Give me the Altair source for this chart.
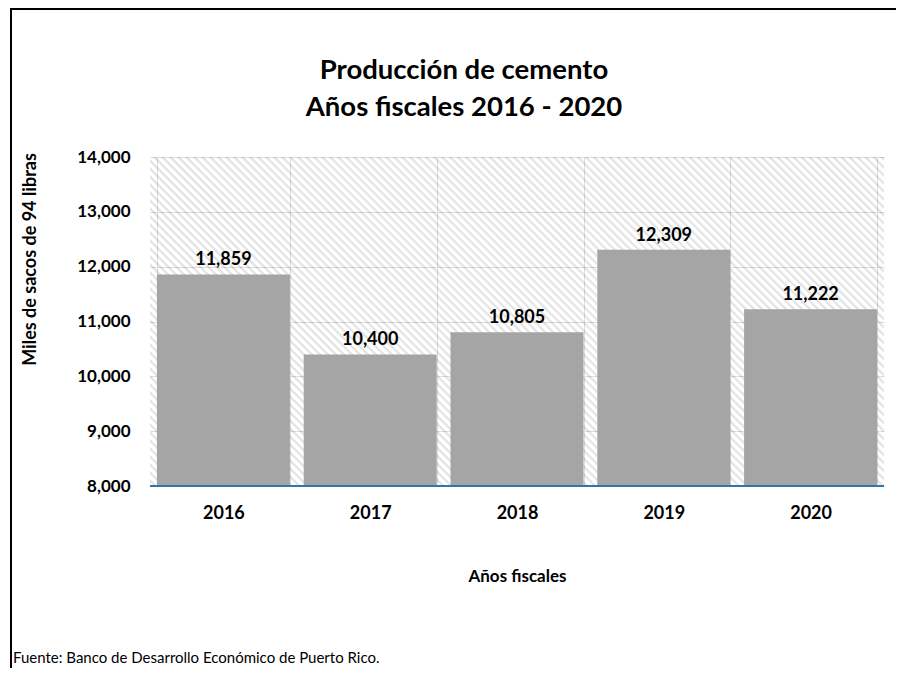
import altair as alt
import pandas as pd

# ---- data ----
YEARS = ["2016", "2017", "2018", "2019", "2020"]
VALUES = [11859, 10400, 10805, 12309, 11222]
Y_TICKS = [8000, 9000, 10000, 11000, 12000, 13000, 14000]
TITLE_LINES = ["Producción de cemento", "Años fiscales 2016 - 2020"]
Y_TITLE = "Miles de sacos de 94 libras"
X_TITLE = "Años fiscales"
SOURCE = "Fuente: Banco de Desarrollo Económico de Puerto Rico."

# ---- layout / style ----
W, H = 734, 329
PAD = {"left": 142, "top": 149, "right": 12, "bottom": 182}
FONT = "Lato"
GRID = "#d9d9d9"
BAR = "#a5a5a5"
BLUE = "#2f75b5"
LBL = 18

df = pd.DataFrame({"year": YEARS, "value": VALUES})

# diagonal hatch pattern as a striped linear gradient (45 degree lines)
r = H / W
a = (1 + r) / (1 + r * r)
period = 8
n = round((W + H) / period)
stops = []
for i in range(n):
    stops += [
        {"offset": i / n, "color": "#ffffff"},
        {"offset": (i + 0.40) / n, "color": "#ffffff"},
        {"offset": (i + 0.62) / n, "color": "#000000"},
        {"offset": (i + 0.78) / n, "color": "#000000"},
    ]
stops.append({"offset": 1.0, "color": "#ffffff"})
hatch_fill = {"gradient": "linear", "x1": 0, "y1": 1, "x2": a, "y2": 1 - a * r, "stops": stops}

x_enc = alt.X(
    "year:N",
    sort=YEARS,
    scale=alt.Scale(paddingInner=0.094, paddingOuter=0.047),
    axis=alt.Axis(
        labelAngle=0, labelFont=FONT, labelFontSize=LBL, labelFontWeight="bold",
        labelColor="black", labelPadding=18, ticks=False, tickSize=0, domain=False,
        grid=True, gridColor=GRID, tickBand="extent",
        title=X_TITLE, titleFont=FONT, titleFontSize=17, titleFontWeight="bold",
        titleColor="black", titleY=95, titleBaseline="alphabetic",
    ),
)
y_enc = alt.Y(
    "value:Q",
    scale=alt.Scale(domain=[8000, 14000], nice=False, zero=False),
    axis=alt.Axis(
        values=Y_TICKS, format=",.0f", labelFont=FONT, labelFontSize=17,
        labelFontWeight="bold", labelColor="black", labelPadding=20,
        ticks=False, tickSize=0, domain=False, grid=True, gridColor=GRID,
        title=Y_TITLE, titleFont=FONT, titleFontSize=18, titleFontWeight="bold",
        titleColor="black", titleX=-115, titleY=102, titleAngle=270,
        titleAlign="center", titleBaseline="alphabetic",
    ),
)

one = pd.DataFrame({"k": [0]})

hatch = alt.Chart(one).mark_rect(fill=hatch_fill, fillOpacity=0.11).encode(
    x=alt.value(0), x2=alt.value("width"), y=alt.value(0), y2=alt.value("height")
)

base = alt.Chart(df)
bars = base.mark_bar(color=BAR).encode(x=x_enc, y=y_enc, y2=alt.datum(8000))
labels = base.mark_text(
    dy=-9, baseline="alphabetic", font=FONT, fontSize=LBL, fontWeight="bold", color="black"
).encode(x=x_enc, y=y_enc, text=alt.Text("value:Q", format=",.0f"))

baseline_rule = alt.Chart(one).mark_rule(color=BLUE, strokeWidth=2).encode(y=alt.datum(8000))

# outer chart frame (left and top edges) drawn as thin filled rectangles
FX = -PAD["left"] + 2
FY = -PAD["top"]
frame_left = alt.Chart(one).mark_rect(color="black").encode(
    x=alt.value(FX), x2=alt.value(FX + 2), y=alt.value(FY), y2=alt.value(H + PAD["bottom"])
)
frame_top = alt.Chart(one).mark_rect(color="black").encode(
    x=alt.value(FX), x2=alt.value(W + PAD["right"]), y=alt.value(FY), y2=alt.value(FY + 2)
)

footer = alt.Chart(one).mark_text(
    align="left", baseline="alphabetic", font=FONT, fontSize=15, color="black"
).encode(x=alt.value(-PAD["left"] + 5), y=alt.value(H + 177), text=alt.value(SOURCE))

chart = alt.layer(hatch, bars, labels, baseline_rule, frame_left, frame_top, footer).properties(
    width=W,
    height=H,
    padding=PAD,
    autosize=alt.AutoSizeParams(type="none"),
    background="white",
    title=alt.TitleParams(
        TITLE_LINES, font=FONT, fontSize=27.5, fontWeight="bold", color="black",
        anchor="middle", frame="group", dx=-53, offset=-135, lineHeight=37,
        baseline="alphabetic",
    ),
).configure_view(stroke=None)

chart.save("out.html", embed_options={"renderer": "svg", "actions": False})
